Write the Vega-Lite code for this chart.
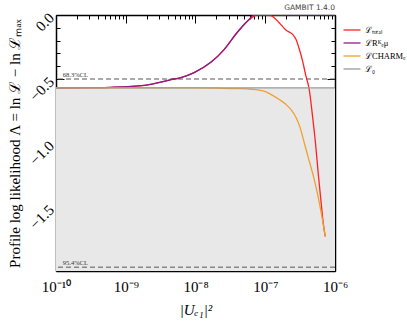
{
  "$schema": "https://vega.github.io/schema/vega-lite/v6.json",
  "width": 279,
  "height": 256,
  "padding": {"left": 7, "top": 4, "right": 0, "bottom": 2},
  "config": {
    "view": {"stroke": null},
    "axis": {
      "grid": false, "domainColor": "#000000", "domainWidth": 1.5, "tickColor": "#000000", "tickWidth": 1,
      "labelFont": "Liberation Serif", "labelFontSize": 15, "labelColor": "#000000",
      "titleFont": "Liberation Serif", "titleFontSize": 15, "titleFontWeight": "normal", "titleColor": "#000000",
      "zindex": 2
    },
    "legend": {"labelFont": "Liberation Serif", "labelFontSize": 8.5, "labelColor": "#000000"}
  },
  "datasets": {
    "fill": [{"x": 1e-10, "y": -0.57}, {"x": 1e-6, "y": -0.57}],
    "cl": [{"y": -0.5, "label": "68.3%CL"}, {"y": -1.97, "label": "95.4%CL"}],
    "stamp": [{"x": 1e-6, "y": 0, "label": "GAMBIT 1.4.0"}],
    "curves": [
      {"series": "total", "x": 1e-10, "y": -0.57},
      {"series": "total", "x": 3.162e-10, "y": -0.568},
      {"series": "total", "x": 6.166e-10, "y": -0.565},
      {"series": "total", "x": 1.862e-9, "y": -0.55},
      {"series": "total", "x": 4.467e-9, "y": -0.505},
      {"series": "total", "x": 6.166e-9, "y": -0.489},
      {"series": "total", "x": 9.55e-9, "y": -0.45},
      {"series": "total", "x": 1.66e-8, "y": -0.37},
      {"series": "total", "x": 2.57e-8, "y": -0.27},
      {"series": "total", "x": 3.981e-8, "y": -0.135},
      {"series": "total", "x": 5.623e-8, "y": -0.045},
      {"series": "total", "x": 7.762e-8, "y": 0},
      {"series": "total", "x": 1e-7, "y": 0},
      {"series": "total", "x": 1.202e-7, "y": -0.005},
      {"series": "total", "x": 1.585e-7, "y": -0.06},
      {"series": "total", "x": 1.995e-7, "y": -0.12},
      {"series": "total", "x": 2.455e-7, "y": -0.15},
      {"series": "total", "x": 2.754e-7, "y": -0.19},
      {"series": "total", "x": 3.09e-7, "y": -0.27},
      {"series": "total", "x": 3.467e-7, "y": -0.37},
      {"series": "total", "x": 3.802e-7, "y": -0.47},
      {"series": "total", "x": 4.266e-7, "y": -0.58},
      {"series": "total", "x": 4.786e-7, "y": -0.8},
      {"series": "total", "x": 5.248e-7, "y": -1.0},
      {"series": "total", "x": 5.754e-7, "y": -1.24},
      {"series": "total", "x": 6.31e-7, "y": -1.46},
      {"series": "total", "x": 6.761e-7, "y": -1.62},
      {"series": "total", "x": 7.244e-7, "y": -1.73},
      {"series": "RK", "x": 1e-10, "y": -0.57},
      {"series": "RK", "x": 3.162e-10, "y": -0.568},
      {"series": "RK", "x": 6.166e-10, "y": -0.565},
      {"series": "RK", "x": 1.862e-9, "y": -0.55},
      {"series": "RK", "x": 4.467e-9, "y": -0.505},
      {"series": "RK", "x": 6.166e-9, "y": -0.489},
      {"series": "RK", "x": 9.55e-9, "y": -0.45},
      {"series": "RK", "x": 1.66e-8, "y": -0.37},
      {"series": "RK", "x": 2.57e-8, "y": -0.27},
      {"series": "RK", "x": 3.981e-8, "y": -0.135},
      {"series": "RK", "x": 5.623e-8, "y": -0.045},
      {"series": "RK", "x": 6.918e-8, "y": 0},
      {"series": "RK", "x": 1e-6, "y": 0},
      {"series": "CHARM", "x": 1e-10, "y": -0.57},
      {"series": "CHARM", "x": 1e-8, "y": -0.57},
      {"series": "CHARM", "x": 1.995e-8, "y": -0.572},
      {"series": "CHARM", "x": 3.981e-8, "y": -0.575},
      {"series": "CHARM", "x": 6.31e-8, "y": -0.58},
      {"series": "CHARM", "x": 9.55e-8, "y": -0.595},
      {"series": "CHARM", "x": 1.202e-7, "y": -0.62},
      {"series": "CHARM", "x": 1.585e-7, "y": -0.66},
      {"series": "CHARM", "x": 1.995e-7, "y": -0.7},
      {"series": "CHARM", "x": 2.344e-7, "y": -0.74},
      {"series": "CHARM", "x": 2.818e-7, "y": -0.81},
      {"series": "CHARM", "x": 3.162e-7, "y": -0.88},
      {"series": "CHARM", "x": 3.631e-7, "y": -1.0},
      {"series": "CHARM", "x": 4.169e-7, "y": -1.12},
      {"series": "CHARM", "x": 5.012e-7, "y": -1.28},
      {"series": "CHARM", "x": 5.623e-7, "y": -1.4},
      {"series": "CHARM", "x": 6.31e-7, "y": -1.54},
      {"series": "CHARM", "x": 6.761e-7, "y": -1.63},
      {"series": "CHARM", "x": 7.244e-7, "y": -1.73},
      {"series": "L0", "x": 1e-10, "y": -0.57},
      {"series": "L0", "x": 1e-6, "y": -0.57}
    ]
  },
  "layer": [
    {
      "data": {"name": "fill"},
      "mark": {"type": "area", "color": "#e8e8e8"},
      "encoding": {
        "x": {"field": "x", "type": "quantitative",
          "scale": {"type": "log", "domain": [1e-10, 1e-6], "nice": false},
          "axis": {"orient": "bottom", "title": "|Uₑ₁|²", "titleFontStyle": "italic",
            "values": [1e-10, 1e-9, 1e-8, 1e-7, 1e-6],
            "labelExpr": "round(log(datum.value)/LN10)==-10?'10⁻¹⁰':round(log(datum.value)/LN10)==-9?'10⁻⁹':round(log(datum.value)/LN10)==-8?'10⁻⁸':round(log(datum.value)/LN10)==-7?'10⁻⁷':'10⁻⁶'",
            "tickSize": -8, "labelPadding": 16, "labelFlush": false, "labelOverlap": false, "titlePadding": 8}},
        "y": {"field": "y", "type": "quantitative",
          "scale": {"domain": [-2, 0], "nice": false, "zero": false},
          "axis": {"orient": "left", "title": "Profile log likelihood Λ = ln ℒ − ln ℒₘₐₓ",
            "values": [-1.5, -1, -0.5, 0],
            "labelExpr": "replace(format(datum.value,'.1f'),'-','−')",
            "tickSize": -8, "labelAngle": -45, "labelPadding": 13, "labelFlush": false, "labelOverlap": false, "titlePadding": 4}},
        "y2": {"datum": -2}
      }
    },
    {
      "data": {"name": "fill"},
      "mark": {"type": "line", "opacity": 0},
      "encoding": {
        "x": {"field": "x", "type": "quantitative",
          "axis": {"orient": "bottom", "title": null, "labels": false, "domain": false, "tickSize": -4,
            "values": [2e-10,3e-10,4e-10,5e-10,6e-10,7e-10,8e-10,9e-10,2e-9,3e-9,4e-9,5e-9,6e-9,7e-9,8e-9,9e-9,2e-8,3e-8,4e-8,5e-8,6e-8,7e-8,8e-8,9e-8,2e-7,3e-7,4e-7,5e-7,6e-7,7e-7,8e-7,9e-7]}},
        "y": {"field": "y", "type": "quantitative",
          "axis": {"orient": "left", "title": null, "labels": false, "domain": false, "tickSize": -4,
            "values": [-1.9,-1.8,-1.7,-1.6,-1.4,-1.3,-1.2,-1.1,-0.9,-0.8,-0.7,-0.6,-0.4,-0.3,-0.2,-0.1]}}
      }
    },
    {
      "data": {"name": "fill"},
      "mark": {"type": "line", "opacity": 0},
      "encoding": {
        "x": {"field": "x", "type": "quantitative",
          "axis": {"orient": "top", "title": null, "labels": false, "domain": false, "tickSize": -4,
            "values": [2e-10,3e-10,4e-10,5e-10,6e-10,7e-10,8e-10,9e-10,2e-9,3e-9,4e-9,5e-9,6e-9,7e-9,8e-9,9e-9,2e-8,3e-8,4e-8,5e-8,6e-8,7e-8,8e-8,9e-8,2e-7,3e-7,4e-7,5e-7,6e-7,7e-7,8e-7,9e-7]}},
        "y": {"field": "y", "type": "quantitative",
          "axis": {"orient": "right", "title": null, "labels": false, "domain": false, "tickSize": -4,
            "values": [-1.9,-1.8,-1.7,-1.6,-1.4,-1.3,-1.2,-1.1,-0.9,-0.8,-0.7,-0.6,-0.4,-0.3,-0.2,-0.1]}}
      }
    },
    {
      "data": {"name": "cl"},
      "mark": {"type": "rule", "color": "#555555", "strokeDash": [5, 3], "strokeWidth": 1},
      "encoding": {"y": {"field": "y", "type": "quantitative", "axis": null}}
    },
    {
      "data": {"name": "cl"},
      "mark": {"type": "text", "align": "left", "baseline": "bottom", "dy": -1, "fontSize": 6.5, "font": "Liberation Serif", "color": "#333333"},
      "encoding": {
        "x": {"datum": 1.25e-10, "type": "quantitative", "axis": null},
        "y": {"field": "y", "type": "quantitative", "axis": null},
        "text": {"field": "label"}
      }
    },
    {
      "data": {"name": "stamp"},
      "mark": {"type": "text", "align": "right", "baseline": "bottom", "dy": -3, "fontSize": 7.5, "font": "DejaVu Sans", "color": "#444444"},
      "encoding": {
        "x": {"field": "x", "type": "quantitative", "axis": null},
        "y": {"field": "y", "type": "quantitative", "axis": null},
        "text": {"field": "label"}
      }
    },
    {
      "data": {"name": "curves"},
      "mark": {"type": "line", "strokeWidth": 1.3, "clip": true, "interpolate": "monotone"},
      "encoding": {
        "x": {"field": "x", "type": "quantitative",
          "axis": {"orient": "top", "title": null, "labels": false, "tickSize": -8,
            "values": [1e-10, 1e-9, 1e-8, 1e-7, 1e-6]}},
        "y": {"field": "y", "type": "quantitative",
          "axis": {"orient": "right", "title": null, "labels": false, "tickSize": -8,
            "values": [-2, -1.5, -1, -0.5, 0]}},
        "color": {"field": "series", "type": "nominal",
          "scale": {"domain": ["total", "RK", "CHARM", "L0"], "range": ["#ff2222", "#8e1a8c", "#f0a030", "#999999"]},
          "legend": {"title": null, "orient": "none", "legendX": 288, "legendY": 7, "symbolType": "M-1.2,0H1.2", "symbolSize": 200, "symbolStrokeWidth": 1.3, "rowPadding": 0, "labelOffset": 5,
            "labelExpr": "datum.label=='total'?'ℒₜₒₜₐₗ':datum.label=='RK'?'ℒRᴷₑμ':datum.label=='CHARM'?'ℒCHARMₑ':'ℒ₀'"}},
        "order": {"field": "x", "type": "quantitative"}
      }
    }
  ],
  "resolve": {"axis": {"x": "independent", "y": "independent"}}
}
